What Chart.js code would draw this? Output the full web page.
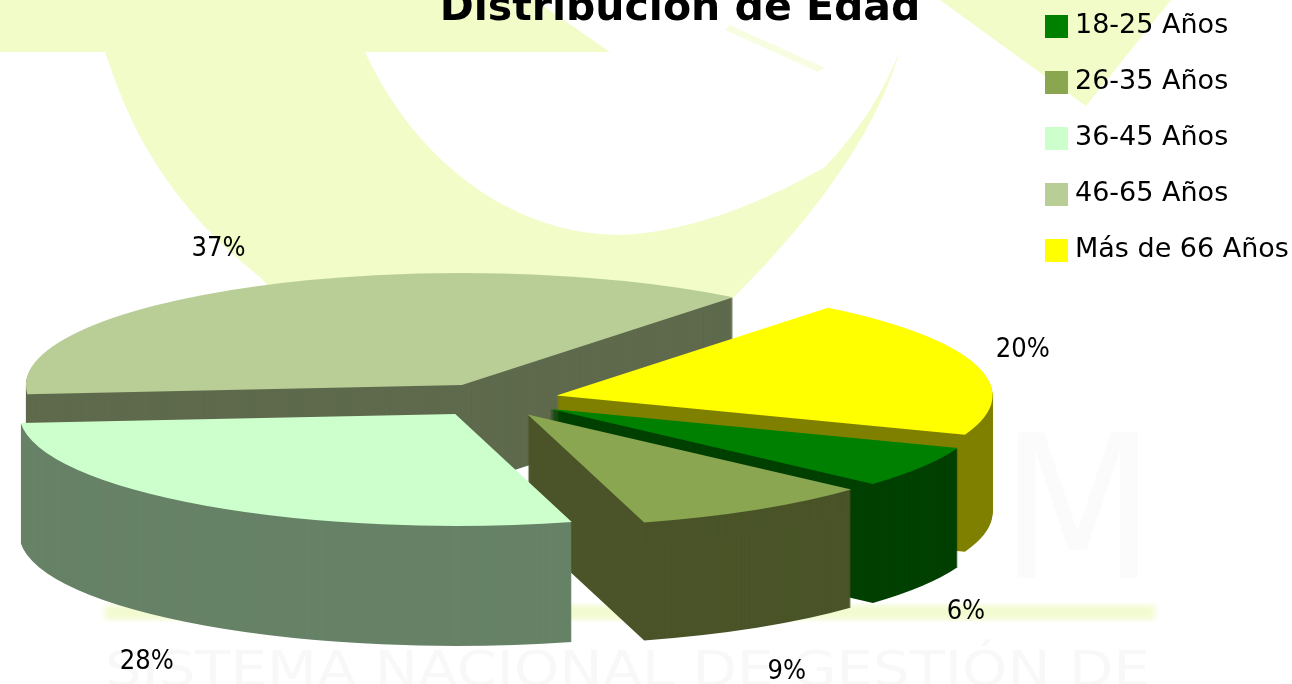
<!DOCTYPE html>
<html lang="es">
<head>
<meta charset="utf-8">
<title>Distribución de Edad</title>
<script src="https://cdn.jsdelivr.net/npm/chart.js@4"></script>
<style>
  html, body { margin: 0; padding: 0; background: #fff; overflow: hidden; }
  #wrap { position: relative; width: 1292px; height: 684px; }
  #bg, #chart { position: absolute; left: 0; top: 0; }
</style>
</head>
<body>
<div id="wrap">
  <!-- faded logo behind the chart -->
  <svg id="bg" width="1292" height="684" viewBox="0 0 1292 684">
    <defs><filter id="soft"><feGaussianBlur stdDeviation="3"/></filter></defs>
    <path fill="#f1fcc9" d="M0 0 L535 0 L610 52 L365 52 C420 170 520 235 620 235 C700 232 780 193 825 167 C860 130 885 90 900 50 C880 120 830 200 738 293 L700 330 L300 320 L260 277 C150 190 122 100 105 52 L0 52 Z"/>
    <path fill="#f7fde0" d="M730 25 L825 68 L818 72 L725 30 Z"/>
    <path fill="#f1fcc9" d="M940 0 L1171 0 L1086 106 Z"/>
    <rect x="105" y="605" width="1050" height="15" fill="#f2fbcf" filter="url(#soft)"/>
    <text x="1000" y="578" font-family="DejaVu Sans" font-size="200" fill="#fbfbfb" textLength="155" lengthAdjust="spacingAndGlyphs">M</text>
    <text x="105" y="686" font-family="DejaVu Sans" font-size="50" fill="#f8f8f8" textLength="1045" lengthAdjust="spacingAndGlyphs">SISTEMA NACIONAL DE GESTIÓN DE</text>
  </svg>
  <canvas id="chart" width="1292" height="684"></canvas>
</div>
<script>
// ── Data ─────────────────────────────────────────────────────────────────────
const categories = ['18-25 Años', '26-35 Años', '36-45 Años', '46-65 Años', 'Más de 66 Años'];
const percents   = [6, 9, 28, 37, 20];
const topColors  = ['#008000', '#8aa650', '#ccffcc', '#b9ce96', '#ffff00'];
const wallColors = ['#004000', '#4a5428', '#678267', '#5f6a4d', '#808000'];

// ── 3D look ──────────────────────────────────────────────────────────────────
const PIE_X = 493, PIE_Y = 400;     // centre of the flattened pie
const RADIUS_X = 436, TILT = 0.257; // screen radius and squash factor
const EXPLODE = 66;                 // slice offset in screen px (arc's own offset also grows the radius)
const wallDepth = [119, 118, 120, 102, 117];
const drawOrder = [3, 4, 0, 1, 2];  // back to front
const labelNudge = [[44, 145], [30, 162], [-59, 156], [-38, -37], [46, -16]];

const FONT = '"DejaVu Sans", sans-serif';
const LABEL_FONT = '"DejaVu Sans Condensed", "DejaVu Sans", sans-serif';

const pie3d = {
  id: 'pie3d',
  afterLayout(chart) {
    // title sits right of centre and runs off the top edge
    const t = chart.titleBlock;
    t.left += 34;
    t.right += 34;
    t.top = -11;
  },
  beforeDatasetsDraw(chart) {
    const ctx = chart.ctx;
    const meta = chart.getDatasetMeta(0);
    const first = meta.data[0];
    const sx = RADIUS_X / first.outerRadius;
    const sy = sx * TILT;

    const place = (el, dy) => {
      const a = (el.startAngle + el.endAngle) / 2;
      const ox = PIE_X + Math.cos(a) * EXPLODE;
      const oy = PIE_Y + Math.sin(a) * EXPLODE * TILT + dy;
      ctx.setTransform(sx, 0, 0, sy, ox - first.x * sx, oy - first.y * sy);
    };

    ctx.save();
    drawOrder.forEach(i => {
      const el = meta.data[i];
      const orig = el.options;
      el.options = Object.create(orig, { backgroundColor: { value: wallColors[i] } });
      for (let d = wallDepth[i]; d > 0; d--) {
        place(el, d);
        el.draw(ctx);
      }
      el.options = orig;
      place(el, 0);
      el.draw(ctx);
    });
    ctx.restore();

    // percentage labels, pushed out from the rim of each slice
    ctx.save();
    ctx.fillStyle = '#000';
    ctx.font = '27px ' + LABEL_FONT;
    ctx.textAlign = 'center';
    ctx.textBaseline = 'middle';
    meta.data.forEach((el, i) => {
      const a = (el.startAngle + el.endAngle) / 2;
      const x = PIE_X + Math.cos(a) * (RADIUS_X + EXPLODE) + labelNudge[i][0];
      const y = PIE_Y + Math.sin(a) * (RADIUS_X + EXPLODE) * TILT + labelNudge[i][1];
      ctx.fillText(percents[i] + '%', x, y);
    });
    ctx.restore();

    // legend column, the built-in one can't get the text this close to the swatch
    ctx.save();
    ctx.font = '27px ' + FONT;
    ctx.textBaseline = 'middle';
    categories.forEach((name, i) => {
      const y = 26 + i * 56;
      ctx.fillStyle = topColors[i];
      ctx.fillRect(1045, y - 11, 23, 23);
      ctx.fillStyle = '#000';
      ctx.fillText(name, 1075, y);
    });
    ctx.restore();

    return false;
  }
};

new Chart(document.getElementById('chart'), {
  type: 'pie',
  data: {
    labels: categories,
    datasets: [{
      data: percents,
      backgroundColor: topColors,
      borderWidth: 0
    }]
  },
  options: {
    responsive: false,
    animation: false,
    rotation: 110.5,
    plugins: {
      legend: { display: false },
      tooltip: { enabled: false },
      title: {
        display: true,
        text: 'Distribución de Edad',
        color: '#000',
        padding: 0,
        font: { family: FONT, size: 41, weight: 'bold', lineHeight: 1 }
      }
    }
  },
  plugins: [pie3d]
});
</script>
</body>
</html>
